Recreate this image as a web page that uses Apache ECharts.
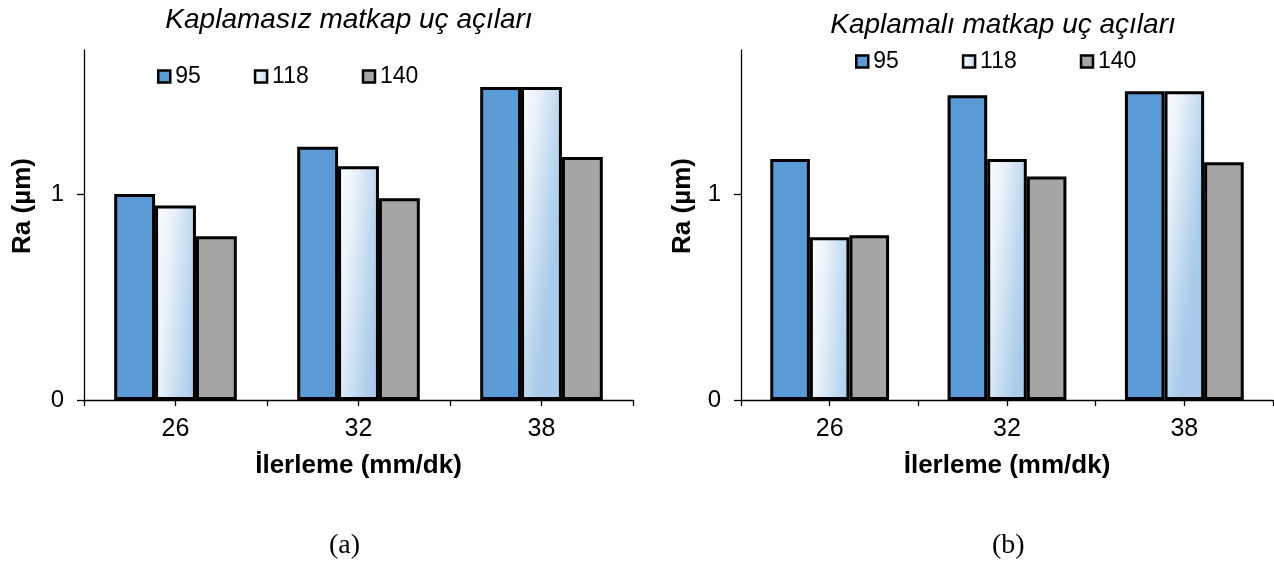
<!DOCTYPE html>
<html>
<head>
<meta charset="utf-8">
<script src="https://cdn.jsdelivr.net/npm/echarts@6/dist/echarts.min.js"></script>
<style>
html,body{margin:0;padding:0;background:#fff;}
#c{width:1274px;height:567px;}
</style>
</head>
<body>
<div id="c"></div>
<script>
// ---- data ----
var categories = ['26', '32', '38'];
var seriesNames = ['95', '118', '140'];
var leftTitle = 'Kaplamasız matkap uç açıları';
var rightTitle = 'Kaplamalı matkap uç açıları';
var xName = 'İlerleme (mm/dk)';
var yName = 'Ra (µm)';
var yTicks = [0, 1];
var left95 = [1.00, 1.23, 1.52];
var left118 = [0.945, 1.135, 1.52];
var left140 = [0.795, 0.98, 1.18];
var right95 = [1.17, 1.48, 1.50];
var right118 = [0.79, 1.17, 1.50];
var right140 = [0.80, 1.085, 1.155];
var panelLabels = ['(a)', '(b)'];

var chart = echarts.init(document.getElementById('c'), null, {renderer: 'canvas'});
var FONT = "'Liberation Sans', Arial, sans-serif";

var grad118 = new echarts.graphic.LinearGradient(0, 0, 1.3, 0.02, [
  {offset: 0, color: '#FFFFFF'},
  {offset: 0.35, color: '#E8F0F9'},
  {offset: 0.75, color: '#BDD7EF'},
  {offset: 1, color: '#A9CAEA'}
]);
var fills = ['#5B9BD5', grad118, '#A5A5A5'];

function yAxisDef(gi, gap, pad) {
  return {
    type: 'value', gridIndex: gi, min: 0, max: 1.7, interval: 1,
    name: yName, nameLocation: 'middle', nameGap: gap,
    nameTextStyle: {fontFamily: FONT, fontWeight: 'bold', fontSize: 26, color: '#000', padding: pad},
    axisLine: {show: true, lineStyle: {color: '#000', width: 1.3}},
    axisTick: {show: true, length: 7, customValues: yTicks, lineStyle: {color: '#000', width: 1.3}},
    axisLabel: {customValues: yTicks, fontFamily: FONT, fontSize: 24, color: '#000', margin: 20},
    splitLine: {show: true, showMinLine: false, showMaxLine: false, lineStyle: {color: '#D9D9D9', width: 1.5}}
  };
}
function xAxisDef(gi) {
  return {
    type: 'category', gridIndex: gi, data: categories, position: 'bottom',
    name: xName, nameLocation: 'middle', nameGap: 53,
    nameTextStyle: {fontFamily: FONT, fontWeight: 'bold', fontSize: 26, color: '#000'},
    axisLine: {show: true, lineStyle: {color: '#000', width: 1.3}},
    axisTick: {show: true, length: 6, alignWithLabel: false, lineStyle: {color: '#000', width: 1.3}},
    axisLabel: {fontFamily: FONT, fontSize: 25, color: '#000', margin: 17},
    splitLine: {show: false}
  };
}
function xCenterTicks(gi) {
  return {
    type: 'category', gridIndex: gi, data: categories, position: 'bottom',
    axisLine: {show: false},
    axisTick: {show: true, length: 6, alignWithLabel: true, lineStyle: {color: '#000', width: 1.3}},
    axisLabel: {show: false},
    splitLine: {show: false}
  };
}
function barSeries(name, data, idx, gi) {
  return {
    type: 'bar', name: name, data: data,
    xAxisIndex: gi * 2, yAxisIndex: gi,
    barGap: '0%', barCategoryGap: '33%',
    itemStyle: {color: fills[idx], borderColor: '#000', borderWidth: 3},
    emphasis: {disabled: true}
  };
}
function legendDef(left, top, gap) {
  return {
    left: left, top: top, itemGap: gap, itemWidth: 12, itemHeight: 12,
    icon: 'rect',
    data: seriesNames.slice(), selectedMode: false,
    textStyle: {fontFamily: FONT, fontSize: 23, color: '#000'},
    itemStyle: {borderColor: '#000', borderWidth: 2.5}
  };
}

var option = {
  backgroundColor: '#fff',
  animation: false,
  title: [
    {text: leftTitle, left: 344, top: 1, textAlign: 'center',
     textStyle: {fontFamily: FONT, fontStyle: 'italic', fontWeight: 'normal', fontSize: 28, color: '#000'}},
    {text: rightTitle, left: 998, top: 6, textAlign: 'center',
     textStyle: {fontFamily: FONT, fontStyle: 'italic', fontWeight: 'normal', fontSize: 28, color: '#000'}}
  ],
  legend: [
    legendDef(152, 60, 53),
    legendDef(850, 45, 63)
  ],
  grid: [
    {left: 84, top: 50, width: 549, height: 350, containLabel: false},
    {left: 741, top: 50, width: 532, height: 350, containLabel: false}
  ],
  xAxis: [xAxisDef(0), xCenterTicks(0), xAxisDef(1), xCenterTicks(1)],
  yAxis: [yAxisDef(0, 48, [0, 0, 0, 38]), yAxisDef(1, 45, [0, 0, 0, 38])],
  series: [
    barSeries(seriesNames[0], left95, 0, 0),
    barSeries(seriesNames[1], left118, 1, 0),
    barSeries(seriesNames[2], left140, 2, 0),
    barSeries(seriesNames[0], right95, 0, 1),
    barSeries(seriesNames[1], right118, 1, 1),
    barSeries(seriesNames[2], right140, 2, 1)
  ],
  graphic: [
    {type: 'text', left: 329, top: 532, style: {text: panelLabels[0], font: "28px 'Liberation Serif', 'Times New Roman', serif", fill: '#000'}},
    {type: 'text', left: 992, top: 532, style: {text: panelLabels[1], font: "28px 'Liberation Serif', 'Times New Roman', serif", fill: '#000'}}
  ]
};
chart.setOption(option);
</script>
</body>
</html>
